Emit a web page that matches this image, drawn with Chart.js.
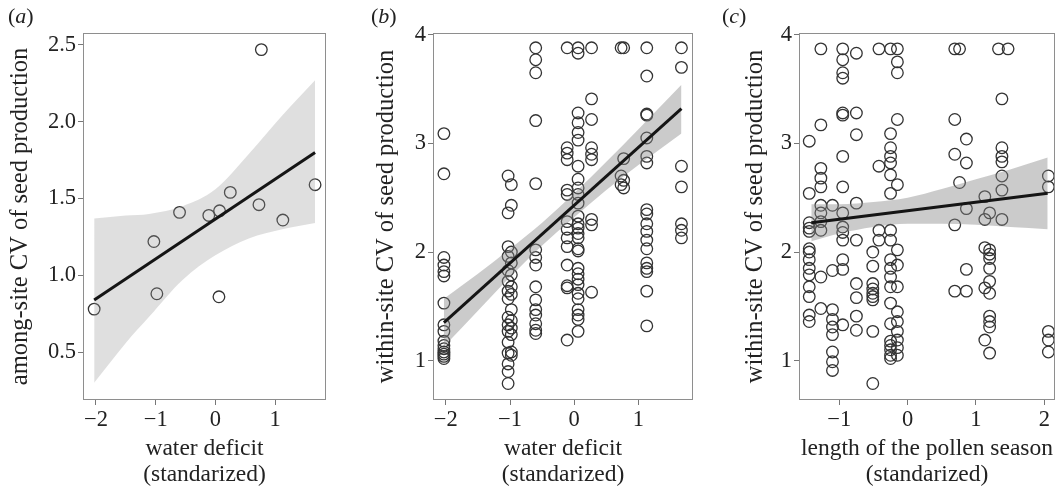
<!DOCTYPE html>
<html>
<head>
<meta charset="utf-8">
<script src="https://cdn.jsdelivr.net/npm/chart.js@4.4.0/dist/chart.umd.min.js"></script>
<style>
body { margin: 0; background: #fff; }
#wrap { position: relative; width: 1063px; height: 488px; overflow: hidden; font-family: "Liberation Serif", serif; }
canvas { position: absolute; top: 0; }
.tag { position: absolute; top: 3px; font-size: 22px; color: #222; }
</style>
</head>
<body>
<div id="wrap">
  <canvas id="ca" width="340" height="488" style="left:0px"></canvas>
  <canvas id="cb" width="334" height="488" style="left:371px"></canvas>
  <canvas id="cc" width="323" height="488" style="left:740px"></canvas>
  <div class="tag" style="left:8px">(<i>a</i>)</div>
  <div class="tag" style="left:371px">(<i>b</i>)</div>
  <div class="tag" style="left:722px">(<i>c</i>)</div>
</div>
<script>
// (a) among-site CV, one point per site
const aWater = [-2.03, -1.03, -0.98, -0.60, -0.11, 0.07, 0.06, 0.25, 0.73, 0.77, 1.13, 1.67];
const aCv    = [0.78, 1.22, 0.88, 1.41, 1.39, 1.42, 0.86, 1.54, 1.46, 2.47, 1.36, 1.59];
const aFitX  = [-2.03, 1.67];
const aFitY  = [0.84, 1.80];
const aBandX  = [-2.03, -1.5, -1.11, -0.55, 0, 0.56, 1.12, 1.67];
const aBandHi = [1.37, 1.39, 1.40, 1.45, 1.56, 1.79, 2.04, 2.27];
const aBandLo = [0.30, 0.56, 0.73, 0.97, 1.13, 1.24, 1.30, 1.34];
const aTicksX = [-2, -1, 0, 1];
const aTicksY = [0.5, 1.0, 1.5, 2.0, 2.5];

// (b) within-site CV, grouped by site water deficit
const bSiteX = [-2.03, -1.03, -0.98, -0.60, -0.11, 0.06, 0.27, 0.73, 0.77, 1.13, 1.67];
const bCv = [
  [3.09, 2.72, 1.95, 1.88, 1.82, 1.78, 1.53, 1.33, 1.27, 1.18, 1.14, 1.11, 1.08, 1.06, 1.04, 1.02],
  [2.70, 2.36, 2.05, 1.96, 1.83, 1.73, 1.64, 1.57, 1.40, 1.33, 1.27, 1.17, 1.07, 0.97, 0.90, 0.79],
  [2.62, 2.43, 2.00, 1.90, 1.79, 1.68, 1.61, 1.47, 1.37, 1.30, 1.24, 1.08, 1.05],
  [3.88, 3.77, 3.65, 3.21, 2.63, 2.02, 1.95, 1.88, 1.68, 1.56, 1.47, 1.42, 1.34, 1.28, 1.25],
  [3.88, 2.96, 2.91, 2.85, 2.57, 2.53, 2.28, 2.21, 2.13, 2.05, 1.88, 1.69, 1.67, 1.19],
  [3.88, 3.83, 3.28, 3.19, 3.10, 3.03, 2.79, 2.67, 2.59, 2.53, 2.45, 2.33, 2.26, 2.22, 2.17, 2.13,
   2.03, 2.01, 1.85, 1.80, 1.75, 1.70, 1.62, 1.57, 1.47, 1.42, 1.38, 1.27],
  [3.88, 3.41, 3.22, 2.96, 2.90, 2.85, 2.30, 2.25, 1.63],
  [3.88, 2.70, 2.62],
  [3.88, 2.86, 2.66, 2.59],
  [3.88, 3.62, 3.27, 3.26, 3.05, 2.88, 2.82, 2.39, 2.35, 2.26, 2.19, 2.11, 2.03, 1.90, 1.85, 1.82, 1.64, 1.32],
  [3.88, 3.70, 2.79, 2.60, 2.26, 2.20, 2.13]
];
const bFitX  = [-2.03, 1.67];
const bFitY  = [1.35, 3.32];
const bBandX  = [-2.03, -1.5, -1, -0.5, 0, 0.5, 1, 1.67];
const bBandHi = [1.57, 1.80, 2.03, 2.27, 2.54, 2.83, 3.13, 3.54];
const bBandLo = [1.13, 1.46, 1.77, 2.06, 2.32, 2.57, 2.80, 3.09];
const bTicksX = [-2, -1, 0, 1];
const bTicksY = [1, 2, 3, 4];

// (c) within-site CV, grouped by pollen season length
const cSeasonX = [-1.44, -1.27, -1.10, -0.95, -0.75, -0.51, -0.42, -0.25, -0.15, 0.69, 0.76, 0.86, 1.13, 1.20, 1.33, 1.38, 1.47, 2.06];
const cCv = [
  [3.02, 2.54, 2.27, 2.22, 2.19, 2.03, 2.00, 1.93, 1.85, 1.79, 1.68, 1.59, 1.42, 1.36],
  [3.87, 3.17, 2.77, 2.68, 2.60, 2.43, 2.36, 2.28, 2.20, 1.77, 1.48],
  [2.43, 1.83, 1.47, 1.38, 1.31, 1.24, 1.08, 0.99, 0.91],
  [3.87, 3.77, 3.65, 3.60, 3.28, 3.26, 2.88, 2.60, 2.36, 2.23, 2.18, 2.11, 1.93, 1.84, 1.33],
  [3.83, 3.28, 3.08, 2.45, 2.11, 1.71, 1.58, 1.41, 1.28],
  [2.00, 1.87, 1.71, 1.66, 1.62, 1.59, 1.56, 1.27, 0.79],
  [3.87, 2.79, 2.20, 2.11],
  [3.87, 3.09, 2.96, 2.88, 2.82, 2.71, 2.54, 2.20, 2.11, 1.93, 1.85, 1.77, 1.68, 1.53, 1.34, 1.18, 1.14, 1.10, 1.05, 1.02],
  [3.87, 3.75, 3.65, 3.22, 2.62, 2.02, 1.88, 1.68, 1.45, 1.36, 1.27, 1.19, 1.12, 1.05],
  [3.87, 3.22, 2.90, 2.25, 1.64],
  [3.87, 2.64],
  [3.04, 2.82, 2.40, 1.84, 1.64],
  [2.51, 2.30, 2.04, 1.67, 1.19],
  [2.36, 2.02, 1.98, 1.94, 1.85, 1.73, 1.62, 1.41, 1.36, 1.31, 1.07],
  [3.87],
  [3.41, 2.96, 2.88, 2.83, 2.70, 2.57, 2.30],
  [3.87],
  [2.70, 2.60, 1.27, 1.19, 1.08]
];
const cFitX  = [-1.41, 2.05];
const cFitY  = [2.27, 2.54];
const cBandX  = [-1.41, -1, -0.5, 0, 0.5, 1, 1.5, 2.05];
const cBandHi = [2.44, 2.44, 2.46, 2.50, 2.58, 2.67, 2.76, 2.87];
const cBandLo = [2.10, 2.17, 2.23, 2.26, 2.26, 2.25, 2.23, 2.21];
const cTicksX = [-1, 0, 1, 2];
const cTicksY = [1, 2, 3, 4];

const serif = '"Liberation Serif", "DejaVu Serif", serif';
const ink = '#222';

function zip(xs, ys) { return xs.map((x, i) => ({ x: x, y: ys[i] })); }
function grouped(xs, groups) { return groups.flatMap((g, i) => g.map(y => ({ x: xs[i], y: y }))); }
function minus(s) { return String(s).replace('-', '\u2212'); }

const boxPlugin = {
  id: 'box',
  afterDatasetsDraw(chart) {
    const { ctx, chartArea: a } = chart;
    ctx.save();
    ctx.strokeStyle = '#8e8e8e';
    ctx.lineWidth = 1;
    ctx.strokeRect(Math.round(a.left) + 0.5, Math.round(a.top) + 0.5,
      Math.round(a.right - a.left) - 1, Math.round(a.bottom - a.top) - 1);
    ctx.restore();
  }
};

function makePanel(id, cfg) {
  const ctx = document.getElementById(id).getContext('2d');
  return new Chart(ctx, {
    type: 'scatter',
    data: {
      datasets: [
        { data: zip(cfg.fitX, cfg.fitY), showLine: true, borderColor: '#151515', borderWidth: 3,
          pointRadius: 0, fill: false },
        { data: zip(cfg.bandX, cfg.bandHi), showLine: true, borderColor: 'rgba(0,0,0,0)', borderWidth: 0,
          pointRadius: 0, cubicInterpolationMode: 'monotone', fill: '+1', backgroundColor: cfg.band },
        { data: zip(cfg.bandX, cfg.bandLo), showLine: true, borderColor: 'rgba(0,0,0,0)', borderWidth: 0,
          pointRadius: 0, cubicInterpolationMode: 'monotone', fill: false },
        { data: cfg.points, showLine: false, pointRadius: 5.8, pointBorderWidth: 1.3,
          pointBorderColor: '#333', pointBackgroundColor: 'rgba(0,0,0,0)' }
      ]
    },
    options: {
      responsive: false,
      animation: false,
      devicePixelRatio: 1,
      layout: { padding: { top: 33, right: cfg.right, left: 0, bottom: 0 } },
      plugins: { legend: { display: false }, tooltip: { enabled: false } },
      scales: {
        x: {
          min: cfg.xMin, max: cfg.xMax,
          afterBuildTicks: s => { s.ticks = cfg.ticksX.map(v => ({ value: v })); },
          afterFit: s => { s.height = 88; },
          grid: { display: true, drawOnChartArea: false, drawTicks: true, tickLength: 5, tickColor: '#777' },
          border: { display: false },
          ticks: { font: { family: serif, size: 22.5 }, color: ink, padding: 2, maxRotation: 0,
            callback: v => minus(v) },
          title: { display: true, text: cfg.xTitle, font: { family: serif, size: 23.5, lineHeight: 1.1 },
            color: ink, padding: { top: 0, bottom: 0 } }
        },
        y: {
          min: cfg.yMin, max: cfg.yMax,
          afterBuildTicks: s => { s.ticks = cfg.ticksY.map(v => ({ value: v })); },
          afterFit: s => { s.width = cfg.yWidth; },
          grid: { display: true, drawOnChartArea: false, drawTicks: true, tickLength: 5, tickColor: '#777' },
          border: { display: false },
          ticks: { font: { family: serif, size: 22.5 }, color: ink, padding: 2,
            callback: v => minus(cfg.fmt(v)) },
          title: { display: true, text: cfg.yTitle, font: { family: serif, size: 24.5, lineHeight: 1.1 },
            color: ink, padding: { top: cfg.yTitlePad, bottom: 0 } }
        }
      }
    },
    plugins: [boxPlugin]
  });
}

makePanel('ca', {
  points: zip(aWater, aCv), fitX: aFitX, fitY: aFitY,
  bandX: aBandX, bandHi: aBandHi, bandLo: aBandLo, band: 'rgba(150,150,150,0.3)',
  xMin: -2.217, xMax: 1.853, yMin: 0.188, yMax: 2.578,
  ticksX: aTicksX, ticksY: aTicksY, fmt: v => v.toFixed(1),
  xTitle: ['water deficit', '(standarized)'], yTitle: 'among-site CV of seed production',
  yWidth: 83, yTitlePad: 7.5, right: 14
});

makePanel('cb', {
  points: grouped(bSiteX, bCv), fitX: bFitX, fitY: bFitY,
  bandX: bBandX, bandHi: bBandHi, bandLo: bBandLo, band: 'rgba(130,130,130,0.42)',
  xMin: -2.2, xMax: 1.85, yMin: 0.638, yMax: 4.016,
  ticksX: bTicksX, ticksY: bTicksY, fmt: v => String(v),
  xTitle: ['water deficit', '(standarized)'], yTitle: 'within-site CV of seed production',
  yWidth: 62, yTitlePad: 2.5, right: 12
});

makePanel('cc', {
  points: grouped(cSeasonX, cCv), fitX: cFitX, fitY: cFitY,
  bandX: cBandX, bandHi: cBandHi, bandLo: cBandLo, band: 'rgba(130,130,130,0.42)',
  xMin: -1.59, xMax: 2.157, yMin: 0.638, yMax: 4.016,
  ticksX: cTicksX, ticksY: cTicksY, fmt: v => String(v),
  xTitle: ['length of the pollen season', '(standarized)'], yTitle: 'within-site CV of seed production',
  yWidth: 59, yTitlePad: 2.5, right: 8
});
</script>
</body>
</html>
